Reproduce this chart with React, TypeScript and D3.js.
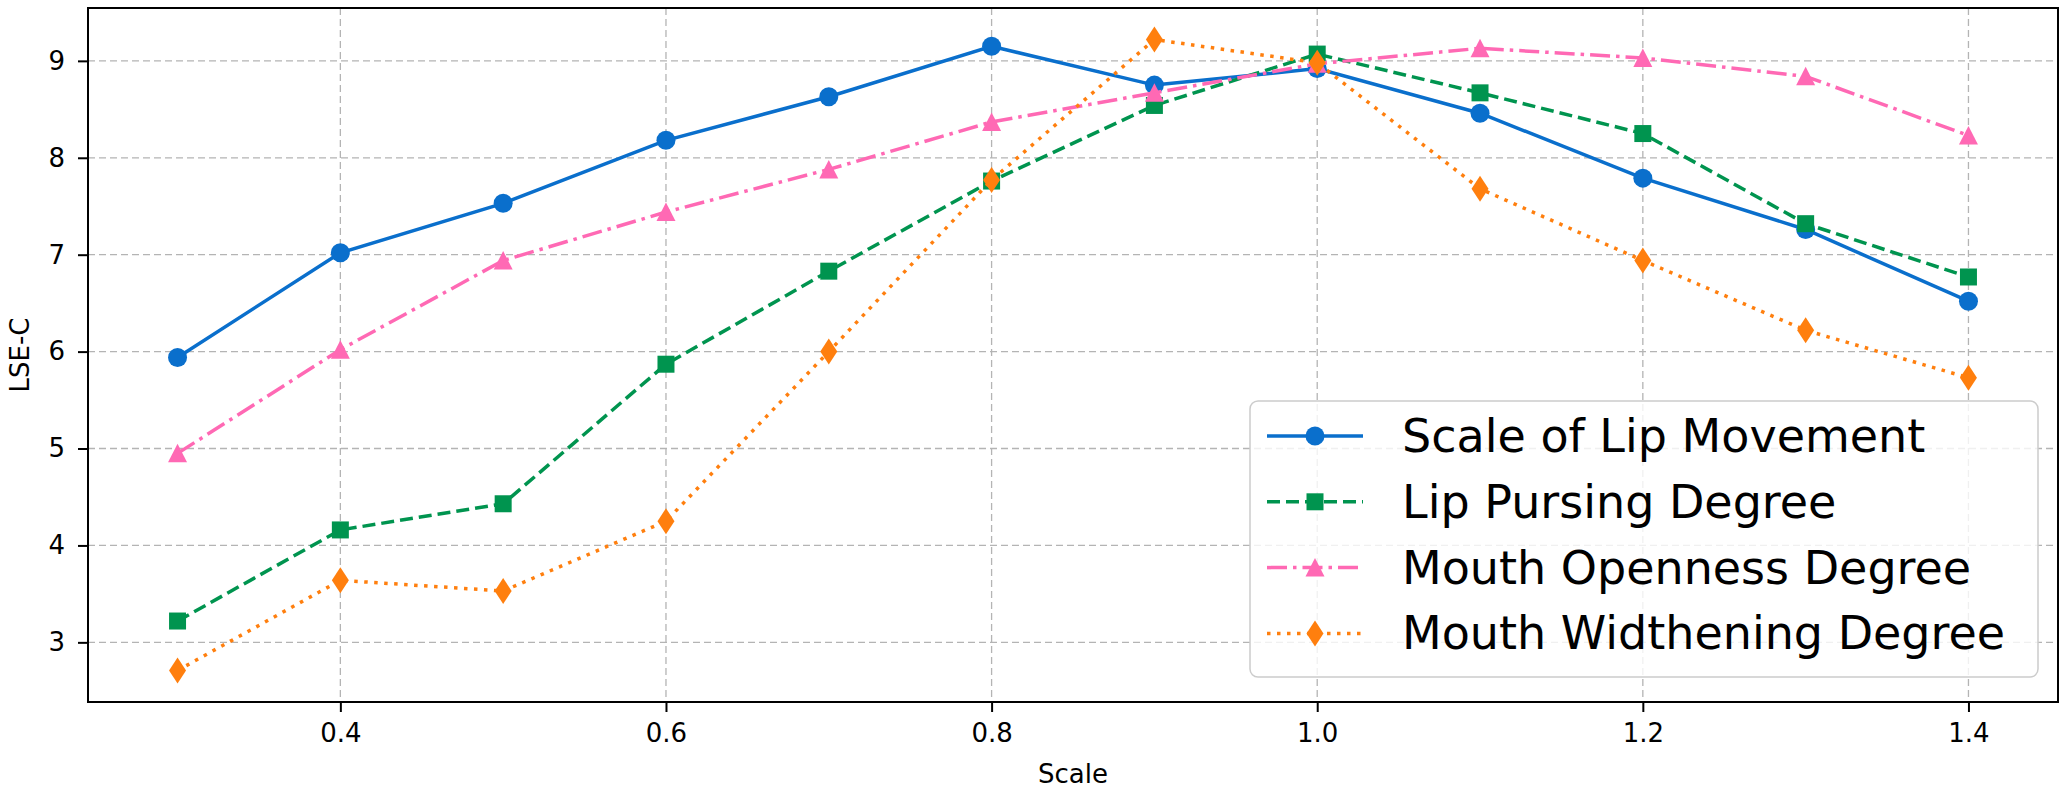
import { useEffect, useRef } from 'react';
import * as d3 from 'd3';

// x values (scale factor) and the four LSE-C series
const scaleValues = [0.3, 0.4, 0.5, 0.6, 0.7, 0.8, 0.9, 1.0, 1.1, 1.2, 1.3, 1.4];
const lipMovement = [5.94, 7.02, 7.53, 8.18, 8.63, 9.15, 8.75, 8.92, 8.46, 7.79, 7.26, 6.52];
const lipPursing = [3.22, 4.16, 4.43, 5.87, 6.83, 7.76, 8.54, 9.07, 8.67, 8.25, 7.32, 6.77];
const mouthOpenness = [4.95, 6.02, 6.94, 7.44, 7.88, 8.37, 8.67, 8.97, 9.13, 9.03, 8.84, 8.23];
const mouthWidthening = [2.71, 3.64, 3.53, 4.25, 6.0, 7.77, 9.22, 8.98, 7.68, 6.94, 6.22, 5.73];

const seriesNames = [
  'Scale of Lip Movement',
  'Lip Pursing Degree',
  'Mouth Openness Degree',
  'Mouth Widthening Degree',
];
const xTicks = [0.4, 0.6, 0.8, 1.0, 1.2, 1.4];
const yTicks = [3, 4, 5, 6, 7, 8, 9];

const styles = [
  { color: '#0a6fcc', dash: null, marker: 'circle' },
  { color: '#00944f', dash: '13,6', marker: 'square' },
  { color: '#ff69b4', dash: '20,6,3.5,6', marker: 'triangle' },
  { color: '#ff7f0e', dash: '3.5,6.5', marker: 'diamond' },
];

// marker outlines, centered on 0,0
function markerPath(kind) {
  const p = d3.path();
  if (kind === 'circle') {
    p.arc(0, 0, 9.5, 0, Math.PI * 2);
  } else if (kind === 'square') {
    p.rect(-8.5, -8.5, 17, 17);
  } else if (kind === 'triangle') {
    p.moveTo(0, -9.5); p.lineTo(-9.5, 9); p.lineTo(9.5, 9); p.closePath();
  } else {
    p.moveTo(0, -13); p.lineTo(8.5, 0); p.lineTo(0, 13); p.lineTo(-8.5, 0); p.closePath();
  }
  return p.toString();
}

function App() {
  const ref = useRef(null);

  useEffect(() => {
    const svg = d3.select(ref.current);
    svg.selectAll('*').remove();

    const left = 88, right = 2058, top = 8, bottom = 702;
    const all = [lipMovement, lipPursing, mouthOpenness, mouthWidthening];
    const data = all.map((vals) => vals.map((v, i) => [scaleValues[i], v]));

    // matplotlib-like 5% margins
    const [x0, x1] = d3.extent(scaleValues);
    const xPad = (x1 - x0) * 0.05;
    const yMin = d3.min(all.flat()), yMax = d3.max(all.flat());
    const yPad = (yMax - yMin) * 0.05;

    const x = d3.scaleLinear().domain([x0 - xPad, x1 + xPad]).range([left, right]);
    const y = d3.scaleLinear().domain([yMin - yPad, yMax + yPad]).range([bottom, top]);

    // grid
    const grid = svg.append('g')
      .attr('stroke', '#b4b4b4').attr('stroke-width', 1.3).attr('stroke-dasharray', '7,4');
    grid.selectAll('.gx').data(xTicks).join('line')
      .attr('x1', (d) => x(d)).attr('x2', (d) => x(d)).attr('y1', top).attr('y2', bottom);
    grid.selectAll('.gy').data(yTicks).join('line')
      .attr('y1', (d) => y(d)).attr('y2', (d) => y(d)).attr('x1', left).attr('x2', right);

    // series
    const line = d3.line().x((d) => x(d[0])).y((d) => y(d[1]));
    data.forEach((pts, i) => {
      const s = styles[i];
      const g = svg.append('g');
      g.append('path')
        .attr('d', line(pts))
        .attr('fill', 'none')
        .attr('stroke', s.color)
        .attr('stroke-width', 3.5)
        .attr('stroke-dasharray', s.dash);
      g.selectAll('path.m').data(pts).join('path')
        .attr('class', 'm')
        .attr('d', markerPath(s.marker))
        .attr('transform', (d) => 'translate(' + x(d[0]) + ',' + y(d[1]) + ')')
        .attr('fill', s.color);
    });

    // axes
    const xAxis = svg.append('g')
      .attr('transform', 'translate(0,' + bottom + ')')
      .call(d3.axisBottom(x).tickValues(xTicks).tickFormat(d3.format('.1f')).tickSize(10).tickPadding(12));
    const yAxis = svg.append('g')
      .attr('transform', 'translate(' + left + ',0)')
      .call(d3.axisLeft(y).tickValues(yTicks).tickFormat(d3.format('d')).tickSize(10).tickPadding(13));
    [xAxis, yAxis].forEach((a) => {
      a.select('.domain').remove();
      a.selectAll('line').attr('stroke', '#000').attr('stroke-width', 2);
      a.selectAll('text')
        .attr('fill', '#000')
        .style('font-family', 'DejaVu Sans')
        .style('font-size', '26px');
    });

    svg.append('rect')
      .attr('x', left).attr('y', top)
      .attr('width', right - left).attr('height', bottom - top)
      .attr('fill', 'none').attr('stroke', '#000').attr('stroke-width', 2);

    svg.append('text')
      .attr('x', (left + right) / 2).attr('y', 783)
      .attr('text-anchor', 'middle')
      .style('font-size', '26px')
      .text('Scale');
    svg.append('text')
      .attr('transform', 'translate(29,' + (top + bottom) / 2 + ') rotate(-90)')
      .attr('text-anchor', 'middle')
      .style('font-size', '26px')
      .text('LSE-C');

    // legend
    const legend = svg.append('g');
    legend.append('rect')
      .attr('x', 1250).attr('y', 401)
      .attr('width', 788).attr('height', 276)
      .attr('rx', 8)
      .attr('fill', 'rgba(255,255,255,0.8)')
      .attr('stroke', '#cccccc').attr('stroke-width', 1.5);
    const rowY = (i) => 436 + i * 65.8;
    seriesNames.forEach((name, i) => {
      const s = styles[i];
      legend.append('line')
        .attr('x1', 1267).attr('x2', 1363)
        .attr('y1', rowY(i)).attr('y2', rowY(i))
        .attr('stroke', s.color).attr('stroke-width', 3.5)
        .attr('stroke-dasharray', s.dash);
      legend.append('path')
        .attr('d', markerPath(s.marker))
        .attr('transform', 'translate(1315,' + rowY(i) + ')')
        .attr('fill', s.color);
      legend.append('text')
        .attr('x', 1402).attr('y', rowY(i) + 16)
        .style('font-size', '46px')
        .text(name);
    });
  }, []);

  return (
    <svg
      ref={ref}
      width={2070}
      height={797}
      style={{ position: 'absolute', left: 0, top: 0, background: '#fff', fontFamily: 'DejaVu Sans' }}
    />
  );
}

export default App;
